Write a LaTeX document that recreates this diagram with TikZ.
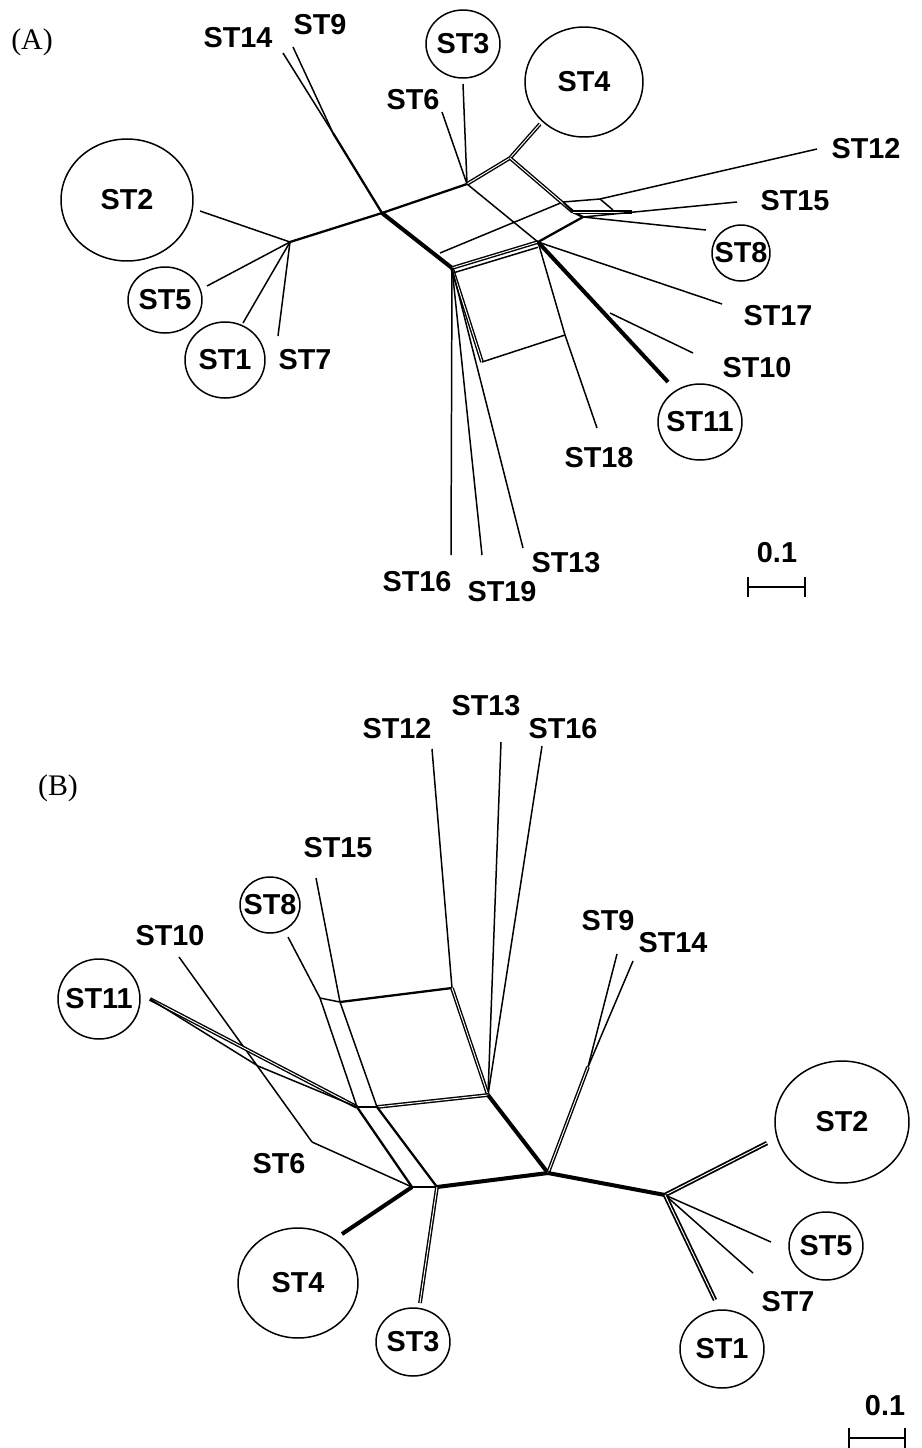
\documentclass[tikz,border=0pt]{standalone}
\usepackage{fontspec}
\setmainfont{Liberation Sans}
\newfontfamily\tagfont{Liberation Serif}
\newcommand{\stfont}{\fontsize{16.4}{18}\selectfont\bfseries}
\tikzset{
	thinl/.style={line width=0.85pt},
	midl/.style={line width=1.3pt},
	heavyl/.style={line width=2.3pt},
	twin/.style={double, line width=0.8pt, double distance=0.55pt},
	tag/.style={font=\tagfont\fontsize{17}{19}\selectfont},
	ring/.style={line width=0.85pt}
}
\begin{document}
\begin{tikzpicture}[x=0.02cm, y=-0.02cm, every node/.style={font=\stfont, inner sep=1pt}]
		\useasboundingbox (0,0) rectangle (922,1448);

		% (A)
		\node[tag] (taga) at (32,42) {(A)};
		\node(st14a) at (238,38) {ST14};
		\node(st9a)  at (320,25) {ST9};
		\node(st3a)  at (463,44) {ST3};
		\node(st4a)  at (584,82) {ST4};
		\node(st6a)  at (413,100) {ST6};
		\node(st12a) at (866,149) {ST12};
		\node(st2a)  at (127,200) {ST2};
		\node(st15a) at (795,201) {ST15};
		\node(st8a)  at (741,253) {ST8};
		\node(st5a)  at (165,300) {ST5};
		\node(st17a) at (778,316) {ST17};
		\node(st1a)  at (225,360) {ST1};
		\node(st7a)  at (305,360) {ST7};
		\node(st10a) at (757,368) {ST10};
		\node(st11a) at (700,422) {ST11};
		\node(st18a) at (599,458) {ST18};
		\node(st13a) at (566,563) {ST13};
		\node(st16a) at (417,582) {ST16};
		\node(st19a) at (502,592) {ST19};
		\node(scalea) at (777,553) {0.1};

		\draw[ring] (st3a.center) ellipse [x radius=0.74cm, y radius=0.68cm];
		\draw[ring] (st4a.center) ellipse [x radius=1.18cm, y radius=1.1cm];
		\draw[ring] (st2a.center) ellipse [x radius=1.32cm, y radius=1.22cm];
		\draw[ring] (st8a.center) ellipse [x radius=0.58cm, y radius=0.56cm];
		\draw[ring] (st5a.center) ellipse [x radius=0.74cm, y radius=0.66cm];
		\draw[ring] (st1a.center) ellipse [x radius=0.8cm, y radius=0.76cm];
		\draw[ring] (st11a.center) ellipse [x radius=0.84cm, y radius=0.76cm];

		\coordinate (h1) at (290,242);
		\coordinate (e2a) at (200,211);
		\coordinate (e5a) at (207,286);
		\coordinate (e1a) at (243,323);
		\coordinate (e7a) at (278,336);
		\coordinate (a) at (382,213);
		\coordinate (j) at (333,133);
		\coordinate (e14a) at (283,53);
		\coordinate (e9a) at (293,47);
		\coordinate (t) at (467,184);
		\coordinate (e6a) at (442,112);
		\coordinate (e3a) at (463,84);
		\coordinate (u) at (510,158);
		\coordinate (e4a) at (540,124);
		\coordinate (l) at (452,268);
		\coordinate (l2) at (440,253);
		\coordinate (m) at (538,242);
		\coordinate (p) at (563,202);
		\coordinate (q) at (600,199);
		\coordinate (s) at (613,210);
		\coordinate (r1) at (573,212);
		\coordinate (r2) at (583,217);
		\coordinate (z) at (632,212);
		\coordinate (e12a) at (817,149);
		\coordinate (e15a) at (737,202);
		\coordinate (e8a) at (706,230);
		\coordinate (e17a) at (722,304);
		\coordinate (k) at (610,313);
		\coordinate (e10a) at (693,353);
		\coordinate (e11a) at (668,382);
		\coordinate (b1) at (482,362);
		\coordinate (b2) at (565,335);
		\coordinate (e18a) at (597,428);
		\coordinate (e16a) at (451,555);
		\coordinate (e19a) at (482,555);
		\coordinate (e13a) at (523,548);

		\draw[thinl] (e2a) -- (h1);
		\draw[thinl] (e5a) -- (h1);
		\draw[thinl] (e1a) -- (h1);
		\draw[thinl] (e7a) -- (h1);
		\draw[midl] (h1) -- (a);
		\draw[thinl] (e14a) -- (j);
		\draw[thinl] (e9a) -- (j);
		\draw[midl] (j) -- (a);
		\draw[midl] (a) -- (t);
		\draw[thinl] (e6a) -- (t);
		\draw[thinl] (e3a) -- (t);
		\draw[twin] (t) -- (u);
		\draw[twin] (u) -- (e4a);
		\draw[heavyl] (a) -- (l);
		\draw[thinl] (l2) -- (p);
		\draw[twin] (l) -- (m);
		\draw[thinl] ([yshift=-3pt]l) -- ([yshift=-3pt]m);
		\draw[thinl] (t) -- (m);
		\draw[twin] (u) -- (r1);
		\draw[thinl] (p) -- (r1);
		\draw[midl] (r1) -- (r2);
		\draw[midl] (m) -- (r2);
		\draw[thinl] (p) -- (q);
		\draw[thinl] (q) -- (e12a);
		\draw[thinl] (q) -- (s);
		\draw[twin] (r1) -- (z);
		\draw[thinl] (r2) -- (e15a);
		\draw[thinl] (r2) -- (e8a);
		\draw[thinl] (m) -- (e17a);
		\draw[heavyl] (m) -- (e11a);
		\draw[thinl] (k) -- (e10a);
		\draw[twin] (l) -- (b1);
		\draw[thinl] (b1) -- (b2);
		\draw[thinl] (m) -- (b2);
		\draw[thinl] (b2) -- (e18a);
		\draw[thinl] (l) -- (e16a);
		\draw[thinl] (l) -- (e19a);
		\draw[thinl] (l) -- (e13a);

		\coordinate (sa1) at (748,587);
		\coordinate (sa2) at (805,587);
		\draw[midl] (sa1) -- (sa2);
		\draw[midl] ([yshift=-0.2cm]sa1) -- ([yshift=0.2cm]sa1);
		\draw[midl] ([yshift=-0.2cm]sa2) -- ([yshift=0.2cm]sa2);

		% (B)
		\node[tag] (tagb) at (58,788) {(B)};
		\node(st13b) at (486,706) {ST13};
		\node(st12b) at (397,729) {ST12};
		\node(st16b) at (563,729) {ST16};
		\node(st15b) at (338,848) {ST15};
		\node(st8b)  at (270,905) {ST8};
		\node(st9b)  at (608,921) {ST9};
		\node(st10b) at (170,936) {ST10};
		\node(st14b) at (673,943) {ST14};
		\node(st11b) at (99,999) {ST11};
		\node(st2b)  at (842,1122) {ST2};
		\node(st6b)  at (279,1164) {ST6};
		\node(st5b)  at (826,1246) {ST5};
		\node(st4b)  at (298,1283) {ST4};
		\node(st7b)  at (788,1302) {ST7};
		\node(st3b)  at (413,1342) {ST3};
		\node(st1b)  at (722,1349) {ST1};
		\node(scaleb) at (885,1406) {0.1};

		\draw[ring] (st8b.center) ellipse [x radius=0.6cm, y radius=0.56cm];
		\draw[ring] (st11b.center) ellipse [x radius=0.82cm, y radius=0.8cm];
		\draw[ring] (st2b.center) ellipse [x radius=1.34cm, y radius=1.22cm];
		\draw[ring] (st5b.center) ellipse [x radius=0.74cm, y radius=0.68cm];
		\draw[ring] (st4b.center) ellipse [x radius=1.2cm, y radius=1.1cm];
		\draw[ring] (st3b.center) ellipse [x radius=0.74cm, y radius=0.68cm];
		\draw[ring] (st1b.center) ellipse [x radius=0.84cm, y radius=0.78cm];

		\coordinate (e12b) at (432,749);
		\coordinate (e13b) at (501,742);
		\coordinate (e16b) at (542,746);
		\coordinate (e15b) at (316,878);
		\coordinate (e8b) at (288,937);
		\coordinate (c1) at (320,998);
		\coordinate (c2) at (340,1002);
		\coordinate (c3) at (452,988);
		\coordinate (c4) at (488,1095);
		\coordinate (c5) at (377,1107);
		\coordinate (c6) at (357,1107);
		\coordinate (c7) at (412,1187);
		\coordinate (c8) at (437,1187);
		\coordinate (c9) at (548,1173);
		\coordinate (f) at (588,1067);
		\coordinate (e9b) at (617,954);
		\coordinate (e14b) at (633,961);
		\coordinate (hb) at (665,1195);
		\coordinate (e2b) at (767,1143);
		\coordinate (e5b) at (771,1242);
		\coordinate (e7b) at (753,1273);
		\coordinate (e1b) at (715,1300);
		\coordinate (e3b) at (420,1303);
		\coordinate (e4b) at (342,1234);
		\coordinate (e10b) at (179,957);
		\coordinate (g6) at (312,1142);
		\coordinate (e11b) at (150,999);
		\coordinate (g11) at (258,1066);

		\draw[thinl] (e12b) -- (c3);
		\draw[thinl] (e13b) -- (c4);
		\draw[thinl] (e16b) -- (c4);
		\draw[thinl] (e15b) -- (c2);
		\draw[thinl] (e8b) -- (c1);
		\draw[thinl] (c1) -- (c2);
		\draw[midl] (c2) -- (c3);
		\draw[twin] (c3) -- (c4);
		\draw[twin] (c4) -- (c5);
		\draw[thinl] (c5) -- (c6);
		\draw[thinl] (c1) -- (c6);
		\draw[thinl] (c2) -- (c5);
		\draw[midl] (c6) -- (c7);
		\draw[midl] (c5) -- (c8);
		\draw[thinl] (c7) -- (c8);
		\draw[heavyl] (c8) -- (c9);
		\draw[heavyl] (c4) -- (c9);
		\draw[twin] (c9) -- (f);
		\draw[thinl] (f) -- (e9b);
		\draw[thinl] (f) -- (e14b);
		\draw[heavyl] (c9) -- (hb);
		\draw[twin, line width=1pt] (hb) -- (e2b);
		\draw[thinl] (hb) -- (e5b);
		\draw[thinl] (hb) -- (e7b);
		\draw[twin, line width=1pt] (hb) -- (e1b);
		\draw[twin] (c8) -- (e3b);
		\draw[heavyl] (c7) -- (e4b);
		\draw[thinl] (e10b) -- (g6);
		\draw[thinl] (g6) -- (c7);
		\draw[twin] (e11b) -- (c6);
		\draw[thinl] (e11b) -- (g11) -- (c6);

		\coordinate (sb1) at (849,1438);
		\coordinate (sb2) at (905,1438);
		\draw[midl] (sb1) -- (sb2);
		\draw[midl] ([yshift=-0.2cm]sb1) -- ([yshift=0.2cm]sb1);
		\draw[midl] ([yshift=-0.2cm]sb2) -- ([yshift=0.2cm]sb2);
\end{tikzpicture}
\end{document}
